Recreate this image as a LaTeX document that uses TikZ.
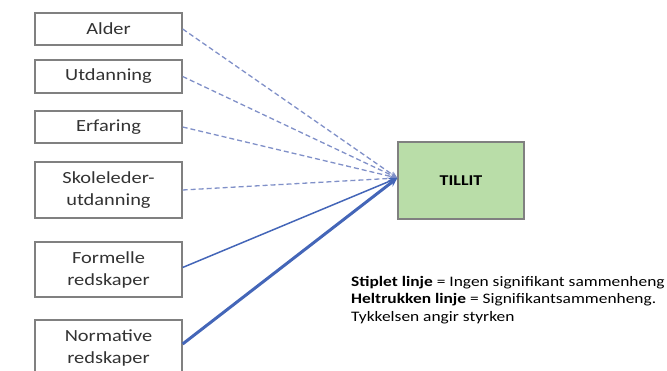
\documentclass[tikz,border=0pt]{standalone}
\usepackage{fontspec}
\setmainfont{Carlito}[FakeStretch=1.2]
\usetikzlibrary{arrows.meta}
\definecolor{boxgray}{HTML}{808080}
\definecolor{labelgray}{HTML}{333333}
\definecolor{tillitgreen}{HTML}{B9DDA8}
\definecolor{dashblue}{HTML}{8090C8}
\definecolor{solidblue}{HTML}{4466B8}
\begin{document}
\begin{tikzpicture}[x=1pt,y=-1pt,
  factor/.style={draw=boxgray, line width=1.3pt, fill=white, minimum width=147pt,
    text=labelgray, font=\fontsize{17}{22}\selectfont, align=center, inner sep=0pt},
  target/.style={draw=boxgray, line width=1.3pt, fill=tillitgreen, minimum width=126pt,
    minimum height=77pt, font=\fontsize{15}{17}\selectfont\bfseries, inner sep=0pt},
  nosig/.style={draw=dashblue, line width=1.3pt, dash pattern=on 5pt off 3pt, -{Stealth[length=7pt,width=6pt]}},
  sig/.style={draw=solidblue, -{Stealth[length=9pt,width=8pt]}}
]
\useasboundingbox (0,0) rectangle (667,371);

% predictor boxes
\node[factor, minimum height=32pt] (alder) at (108.5,29) {Alder};
\node[factor, minimum height=33pt] (utd) at (108.5,76.5) {Utdanning};
\node[factor, minimum height=32pt] (erf) at (108.5,127) {Erfaring};
\node[factor, minimum height=56pt] (skole) at (108.5,190) {Skoleleder-\\utdanning};
\node[factor, minimum height=55pt] (form) at (108.5,269.5) {Formelle\\redskaper};
\node[factor, minimum height=56pt] (norm) at (108.5,348) {Normative\\redskaper};

% outcome box
\node[target] (tillit) at (461,180.5) {TILLIT};
\coordinate (tip) at ([yshift=2.5pt]tillit.west);

% non-significant paths
\draw[nosig] (alder.east) -- (tip);
\draw[nosig] (utd.east) -- (tip);
\draw[nosig] (erf.east) -- (tip);
\draw[nosig] (skole.east) -- (tip);

% significant paths, width gives strength
\draw[sig, line width=1.5pt] ([yshift=2pt]form.east) -- (tip);
\draw[sig, line width=3pt] ([yshift=4pt]norm.east) -- (tip);

% legend
\node[anchor=north west, align=left, inner sep=0pt, text=black,
  font=\fontsize{14.5}{17.5}\selectfont] (legend) at (351,276)
  {\textbf{Stiplet linje} = Ingen signifikant sammenheng\\
   \textbf{Heltrukken linje} = Signifikantsammenheng.\\
   Tykkelsen angir styrken};
\end{tikzpicture}
\end{document}
